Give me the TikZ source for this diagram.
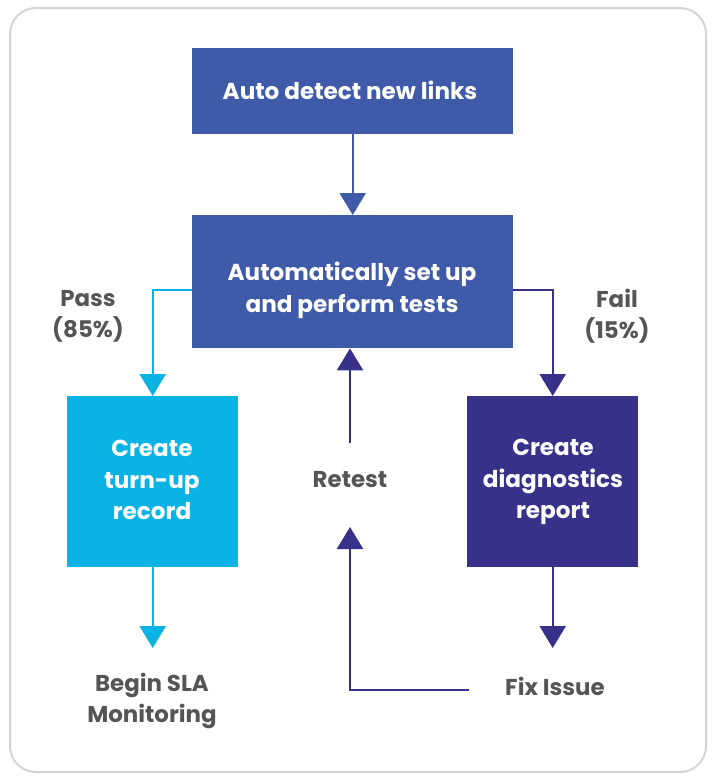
\documentclass[tikz,border=0pt]{standalone}
\usepackage{fontspec}
\setmainfont{Poppins}
\usetikzlibrary{arrows.meta}
\definecolor{boxblue}{HTML}{3F5AA8}
\definecolor{boxcyan}{HTML}{0AB3E3}
\definecolor{boxpurple}{HTML}{38318A}
\definecolor{labelgray}{HTML}{555555}
\definecolor{framegray}{HTML}{D4D4D4}
\tikzset{
  x=1bp, y=-1bp,
  stepbox/.style={draw=none, inner sep=0pt, anchor=north west},
  boxtext/.style={text=white, font=\bfseries\fontsize{23.2}{31.8}\selectfont, align=center},
  graytext/.style={text=labelgray, font=\bfseries\fontsize{23}{31}\selectfont, align=center},
  flow/.style={line width=2.4bp, -{Triangle[width=26bp,length=22bp]}},
}
\begin{document}
\begin{tikzpicture}
\useasboundingbox (0,0) rectangle (714,779);
% outer frame
\draw[framegray, line width=2bp, rounded corners=26bp] (10,8) rectangle (706,772);

% boxes
\node[stepbox, fill=boxblue, minimum width=321bp, minimum height=86bp] (detect) at (192,48) {};
\node[stepbox, fill=boxblue, minimum width=321bp, minimum height=133bp] (tests) at (192,215) {};
\node[stepbox, fill=boxcyan, minimum width=171bp, minimum height=171bp] (turnup) at (67,396) {};
\node[stepbox, fill=boxpurple, minimum width=171bp, minimum height=171bp] (diag) at (467,396) {};

% box texts
\node[boxtext] at (350,90) {Auto detect new links};
\node[boxtext] at (352,290.5) {Automatically set up\\and perform tests};
\node[boxtext] at (152,480) {Create\\turn-up\\record};
\node[boxtext] at (553,482) {Create\\diagnostics\\report};

% free labels
\node[graytext] (pass) at (88,316) {Pass\\(85\%)};
\node[graytext] (fail) at (617,316) {Fail\\(15\%)};
\node[graytext] (retest) at (350,480) {Retest};
\node[graytext] (sla) at (152,701) {Begin SLA\\Monitoring};
\node[graytext] (fix) at (555,686) {Fix Issue};

% connector end points
\coordinate (passout) at (tests.west |- 0,290);
\coordinate (failout) at (tests.east |- 0,290);
\coordinate (retestlow) at (350,443);
\coordinate (retesthigh) at (350,527);
\coordinate (fixleft) at (469,690);
\coordinate (slatop) at (turnup.south |- 0,648);
\coordinate (fixtop) at (diag.south |- 0,648);

% connectors
\draw[flow, boxblue] (detect.south) -- (tests.north);
\draw[flow, boxcyan] (passout) -| (turnup.north);
\draw[flow, boxpurple] (failout) -| (diag.north);
\draw[flow, boxpurple] (retestlow) -- (retestlow |- tests.south);
\draw[flow, boxpurple] (fixleft) -| (retesthigh);
\draw[flow, boxcyan] (turnup.south) -- (slatop);
\draw[flow, boxpurple] (diag.south) -- (fixtop);
\end{tikzpicture}
\end{document}
